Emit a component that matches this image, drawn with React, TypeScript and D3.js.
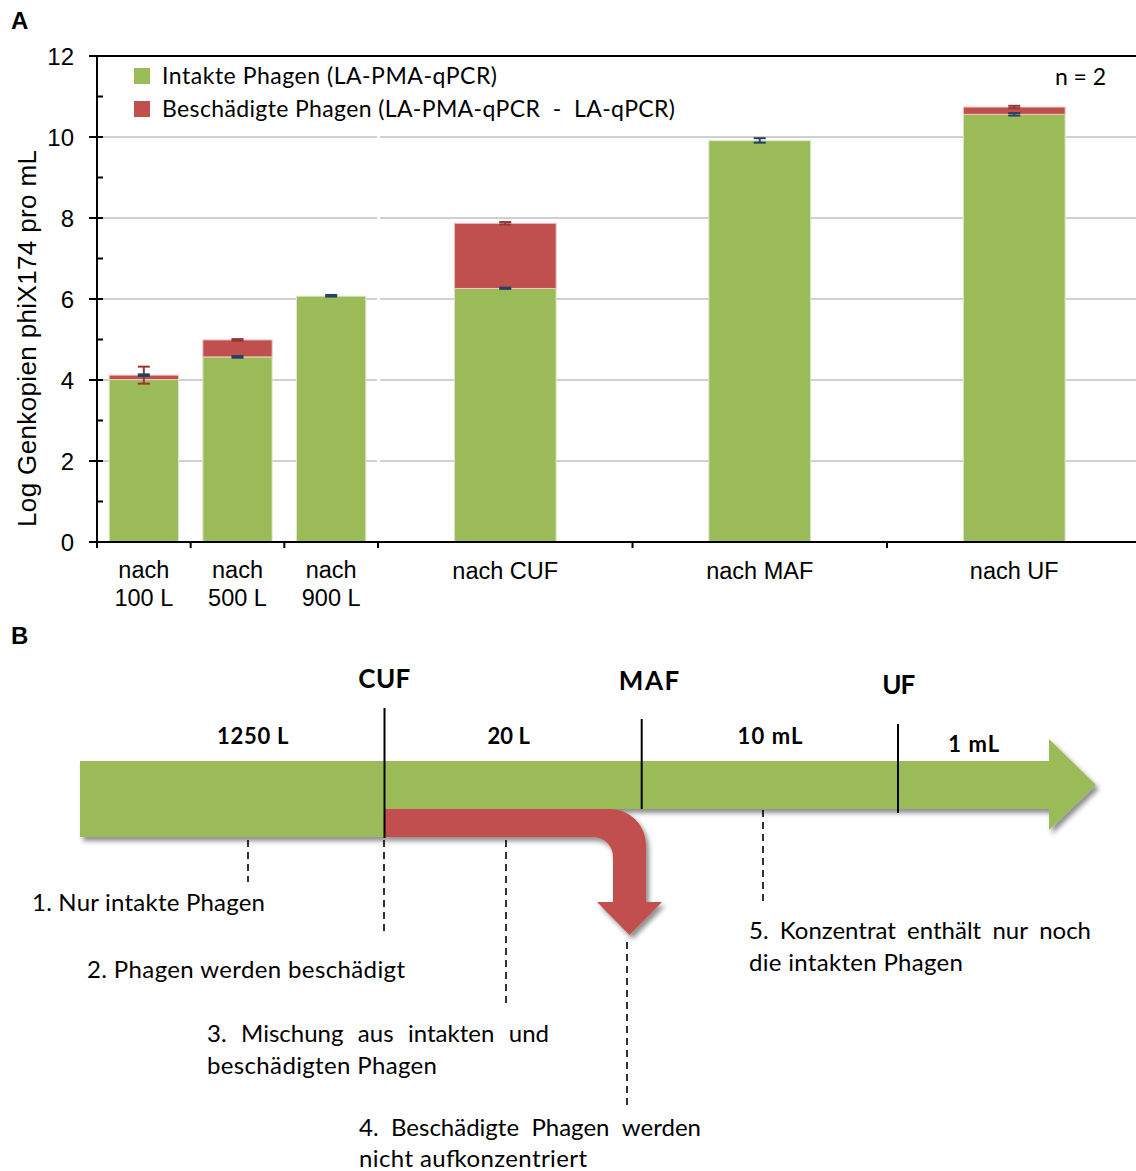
import React, { useEffect, useRef } from "react";
import * as d3 from "d3";

// ---------- Data (Panel A) ----------
const leftCats = ["100 L", "500 L", "900 L"];
const leftLabels = [["nach", "100 L"], ["nach", "500 L"], ["nach", "900 L"]];
const rightCats = ["nach CUF", "nach MAF", "nach UF"];
const intact = [4.01, 4.57, 6.07, 6.26, 9.91, 10.56];
const damaged = [0.11, 0.42, 0, 1.61, 0, 0.18];
const intactErrLow = [4.1, 4.55, 6.06, 6.25, 9.86, 10.53];
const intactErrHigh = [4.14, 4.59, 6.1, 6.28, 9.97, 10.59];
const damagedErrLow = [3.91, 4.97, NaN, 7.84, NaN, 10.71];
const damagedErrHigh = [4.33, 5.01, NaN, 7.9, NaN, 10.77];
const yTicks = [0, 2, 4, 6, 8, 10, 12];
const yMinor = [1, 3, 5, 7, 9, 11];
const legendLabels = ["Intakte Phagen (LA-PMA-qPCR)", "Beschädigte Phagen (LA-PMA-qPCR  -  LA-qPCR)"];
const yTitle = "Log Genkopien phiX174 pro mL";

// ---------- Data (Panel B) ----------
const stepNames = ["CUF", "MAF", "UF"];
const volumes = ["1250 L", "20 L", "10 mL", "1 mL"];
const notes1 = ["1. Nur intakte Phagen", "2. Phagen werden beschädigt"];
const note3 = ["3. Mischung aus intakten und", "beschädigten Phagen"];
const note4 = ["4. Beschädigte Phagen werden", "nicht aufkonzentriert"];
const note5 = ["5. Konzentrat enthält nur noch", "die intakten Phagen"];

const GREEN = "#9bbb59";
const RED = "#c0504d";
const BLUE_ERR = "#263f62";
const RED_ERR = "#953735";
const SANS = "'Liberation Sans', Arial, sans-serif";
const CAL = "Lato, 'Open Sans', sans-serif";

export default function App() {
  const ref = useRef<SVGSVGElement | null>(null);

  useEffect(() => {
    document.body.style.margin = "0";
    const svg = d3.select(ref.current);
    svg.selectAll("*").remove();

    const defs = svg.append("defs");
    const f = defs.append("filter").attr("id", "shadow").attr("x", "-10%").attr("y", "-20%").attr("width", "130%").attr("height", "160%");
    f.append("feDropShadow").attr("dx", 3).attr("dy", 4).attr("stdDeviation", 2.5).attr("flood-color", "#000").attr("flood-opacity", 0.45);

    // ================= Panel A =================
    const y = d3.scaleLinear().domain([0, 12]).range([542, 56]);
    const xL = d3.scaleBand<string>().domain(leftCats).range([97, 378]).paddingInner(0.26).paddingOuter(0.13);
    const xR = d3.scaleBand<string>().domain(rightCats).range([378, 1141.5]).paddingInner(0.6).paddingOuter(0.3);
    const A = svg.append("g");

    A.append("text").attr("x", 11).attr("y", 29).attr("font-family", SANS).attr("font-weight", "bold").attr("font-size", 24).text("A");

    // gridlines
    yTicks.filter((t) => t > 0 && t < 12).forEach((t) => {
      [[97, 377], [380, 1136]].forEach(([a, b]) => {
        A.append("line").attr("x1", a).attr("x2", b).attr("y1", y(t)).attr("y2", y(t))
          .attr("stroke", "#d0d0d0").attr("stroke-width", 2);
      });
    });
    // top border
    A.append("line").attr("x1", 89).attr("x2", 1136).attr("y1", y(12)).attr("y2", y(12)).attr("stroke", "#000").attr("stroke-width", 2);

    const xPos = (i: number) => (i < 3 ? xL(leftCats[i])! : xR(rightCats[i - 3])!);
    const bw = (i: number) => (i < 3 ? xL.bandwidth() : xR.bandwidth());

    // bars
    intact.forEach((v, i) => {
      A.append("rect").attr("x", xPos(i)).attr("width", bw(i)).attr("y", y(v)).attr("height", y(0) - y(v))
        .attr("fill", GREEN).attr("stroke", "#dfe8cf").attr("stroke-width", 1);
      if (damaged[i] > 0) {
        A.append("rect").attr("x", xPos(i)).attr("width", bw(i)).attr("y", y(v + damaged[i])).attr("height", y(v) - y(v + damaged[i]))
          .attr("fill", RED).attr("stroke", "#ecc9c8").attr("stroke-width", 1);
      }
    });

    // error bars
    const errBar = (i: number, lo: number, hi: number, color: string) => {
      if (isNaN(lo) || isNaN(hi)) return;
      const cx = xPos(i) + bw(i) / 2;
      const g = A.append("g").attr("stroke", color).attr("stroke-width", 2);
      g.append("line").attr("x1", cx).attr("x2", cx).attr("y1", y(lo)).attr("y2", y(hi));
      g.append("line").attr("x1", cx - 6).attr("x2", cx + 6).attr("y1", y(lo)).attr("y2", y(lo));
      g.append("line").attr("x1", cx - 6).attr("x2", cx + 6).attr("y1", y(hi)).attr("y2", y(hi));
    };
    intact.forEach((_, i) => {
      errBar(i, damagedErrLow[i], damagedErrHigh[i], RED_ERR);
      errBar(i, intactErrLow[i], intactErrHigh[i], BLUE_ERR);
    });

    // y axis
    A.append("line").attr("x1", 97).attr("x2", 97).attr("y1", y(12)).attr("y2", y(0)).attr("stroke", "#000").attr("stroke-width", 2);
    yTicks.forEach((t) => {
      A.append("line").attr("x1", 89).attr("x2", t === 12 ? 97 : 103).attr("y1", y(t)).attr("y2", y(t)).attr("stroke", "#000").attr("stroke-width", 2);
      A.append("text").attr("x", 74).attr("y", y(t)).attr("dy", "0.36em").attr("text-anchor", "end")
        .attr("font-family", SANS).attr("font-size", 24).text(String(t));
    });
    yMinor.forEach((t) => {
      A.append("line").attr("x1", 97).attr("x2", 103).attr("y1", y(t)).attr("y2", y(t)).attr("stroke", "#000").attr("stroke-width", 2);
    });
    A.append("text").attr("transform", `translate(36,${(150 + 527) / 2}) rotate(-90)`).attr("text-anchor", "middle")
      .attr("font-family", SANS).attr("font-size", 26).attr("textLength", 377).text(yTitle);

    // x axis
    A.append("line").attr("x1", 97).attr("x2", 1136).attr("y1", y(0)).attr("y2", y(0)).attr("stroke", "#000").attr("stroke-width", 2);
    const leftTicks = d3.range(0, 4).map((k) => 97 + k * xL.step());
    const rightTicks = d3.range(0, 3).map((k) => 378 + k * xR.step());
    [...leftTicks, ...rightTicks].forEach((tx) => {
      A.append("line").attr("x1", tx).attr("x2", tx).attr("y1", y(0)).attr("y2", 548).attr("stroke", "#000").attr("stroke-width", 2);
    });
    leftLabels.forEach((lab, i) => {
      const cx = xL(leftCats[i])! + xL.bandwidth() / 2;
      lab.forEach((s, k) => {
        A.append("text").attr("x", cx).attr("y", 578 + k * 28).attr("text-anchor", "middle")
          .attr("font-family", SANS).attr("font-size", 23.5).text(s);
      });
    });
    rightCats.forEach((c) => {
      A.append("text").attr("x", xR(c)! + xR.bandwidth() / 2).attr("y", 579).attr("text-anchor", "middle")
        .attr("font-family", SANS).attr("font-size", 23.5).text(c);
    });

    // legend
    [GREEN, RED].forEach((col, k) => {
      A.append("rect").attr("x", 134).attr("y", 68 + k * 33).attr("width", 16).attr("height", 16).attr("fill", col);
      A.append("text").attr("x", 162).attr("y", 84 + k * 32.5).attr("font-family", CAL).attr("font-size", 23)
        .attr("textLength", k === 0 ? 335 : 513).style("white-space", "pre").text(legendLabels[k]);
    });
    A.append("text").attr("x", 1055).attr("y", 85).attr("font-family", CAL).attr("font-size", 23).attr("textLength", 51).text("n = 2");

    // ================= Panel B =================
    const B = svg.append("g");
    B.append("text").attr("x", 11).attr("y", 644).attr("font-family", SANS).attr("font-weight", "bold").attr("font-size", 24).text("B");

    const green = d3.path();
    green.moveTo(80, 761); green.lineTo(1049, 761); green.lineTo(1049, 739); green.lineTo(1096, 785);
    green.lineTo(1049, 830); green.lineTo(1049, 809); green.lineTo(385, 809); green.lineTo(385, 837);
    green.lineTo(80, 837); green.closePath();
    B.append("path").attr("d", green.toString()).attr("fill", GREEN).attr("filter", "url(#shadow)");

    const red = d3.path();
    red.moveTo(385, 809); red.lineTo(610, 809);
    red.arcTo(646, 809, 646, 845, 36);
    red.lineTo(646, 902); red.lineTo(662, 902); red.lineTo(629.5, 935); red.lineTo(597, 902); red.lineTo(613, 902);
    red.lineTo(613, 857);
    red.arcTo(613, 837, 593, 837, 20);
    red.lineTo(385, 837); red.closePath();
    B.append("path").attr("d", red.toString()).attr("fill", RED).attr("filter", "url(#shadow)");

    // separators
    [[384.5, 708, 838], [641.7, 719, 809], [898, 724, 813]].forEach(([x, a, b]) => {
      B.append("line").attr("x1", x).attr("x2", x).attr("y1", a).attr("y2", b).attr("stroke", "#000").attr("stroke-width", 2);
    });

    // step names
    const stepPos = [[384.3, 688, 52], [649, 690, 60.5], [898.8, 694, 33]];
    stepNames.forEach((s, i) => {
      B.append("text").attr("x", stepPos[i][0]).attr("y", stepPos[i][1]).attr("text-anchor", "middle")
        .attr("font-family", CAL).attr("font-weight", 700).attr("font-size", 26).attr("textLength", stepPos[i][2]).text(s);
    });
    const volPos = [[252.8, 744, 71.5], [508.8, 744, 42.5], [770, 744, 65], [973.7, 751.5, 51]];
    volumes.forEach((s, i) => {
      B.append("text").attr("x", volPos[i][0]).attr("y", volPos[i][1]).attr("text-anchor", "middle")
        .attr("font-family", CAL).attr("font-weight", 700).attr("font-size", 22).attr("textLength", volPos[i][2]).text(s);
    });

    // dashed leaders
    [[248, 840, 882], [384, 840, 935], [506, 840, 1005], [627, 942, 1110], [763, 810, 905]].forEach(([x, a, b]) => {
      B.append("line").attr("x1", x).attr("x2", x).attr("y1", a).attr("y2", b).attr("stroke", "#000")
        .attr("stroke-width", 1.6).attr("stroke-dasharray", "7,5");
    });

    const FS = 24;
    const plain = (s: string, x: number, yy: number, w: number) => {
      B.append("text").attr("x", x).attr("y", yy).attr("font-family", CAL).attr("font-size", FS)
        .attr("textLength", w).text(s);
    };
    const justify = (s: string, x0: number, x1: number, yy: number) => {
      const words = s.split(" ");
      const nodes = words.map((w) => B.append("text").attr("y", yy).attr("font-family", CAL).attr("font-size", FS).text(w));
      const widths = nodes.map((n) => (n.node() as SVGTextElement).getComputedTextLength());
      const total = d3.sum(widths);
      const gap = (x1 - x0 - total) / (words.length - 1);
      let cx = x0;
      nodes.forEach((n, k) => { n.attr("x", cx); cx += widths[k] + gap; });
    };

    plain(notes1[0], 32, 911, 233);
    plain(notes1[1], 87, 978, 318);
    justify(note3[0], 207, 549, 1042);
    plain(note3[1], 207, 1074, 230);
    justify(note4[0], 359, 701, 1136);
    plain(note4[1], 359, 1167, 228);
    justify(note5[0], 749, 1091, 939);
    plain(note5[1], 749, 971, 214);
  }, []);

  return (
    <div style={{ position: "absolute", left: 0, top: 0 }}>
      <svg ref={ref} width={1136} height={1171} style={{ display: "block", background: "#fff" }} />
    </div>
  );
}
